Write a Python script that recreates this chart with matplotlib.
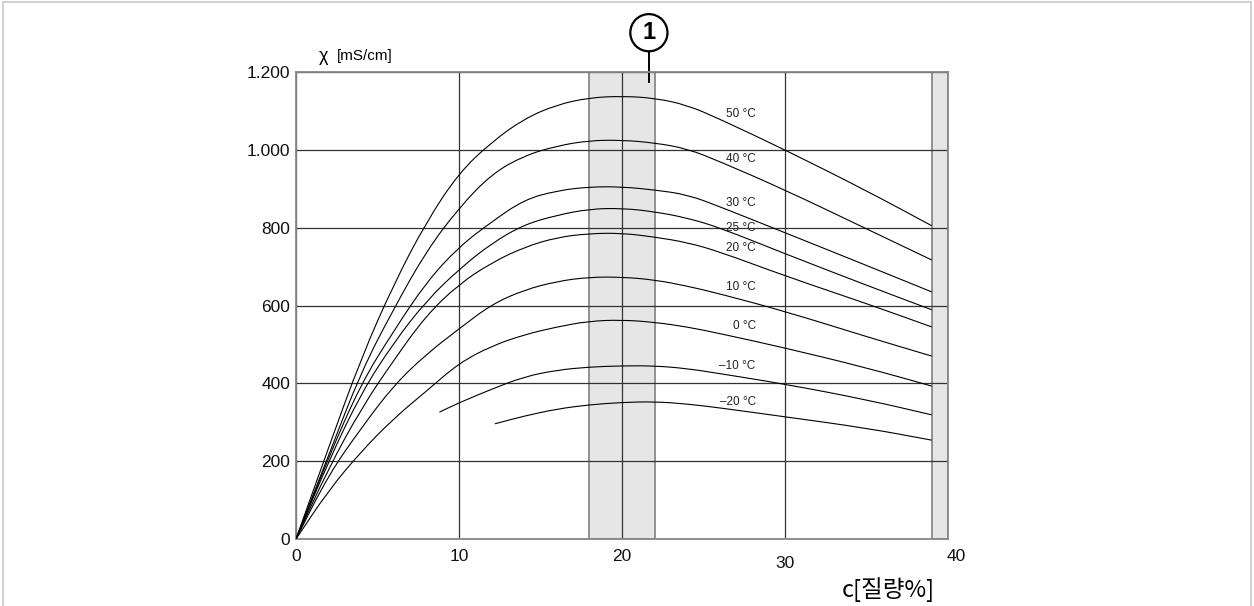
import matplotlib
matplotlib.use("Agg")
import matplotlib.pyplot as plt
import matplotlib.transforms as mtransforms
from matplotlib.patches import Rectangle, PathPatch
from matplotlib.path import Path

plt.rcParams['font.family'] = ['Liberation Sans', 'Noto Sans CJK KR', 'DejaVu Sans']

# conductivity curves, c [mass %] vs chi [mS/cm]
x_main = [0, 2, 4, 6, 8, 10, 12, 14, 16, 18, 20, 22, 24, 26, 30, 35, 39]
y_50 = [0, 235, 465, 655, 815, 941, 1020, 1080, 1116, 1134, 1138, 1133, 1115, 1079, 1000, 895, 805]
y_40 = [0, 215, 430, 592, 740, 851, 938, 985, 1010, 1024, 1025, 1018, 1003, 970, 897, 797, 717]
y_30 = [0, 210, 400, 535, 660, 751, 815, 872, 895, 905, 905, 897, 885, 854, 787, 703, 635]
y_25 = [0, 200, 375, 505, 612, 693, 760, 808, 832, 848, 850, 841, 825, 800, 733, 652, 589]
y_20 = [0, 182, 335, 460, 575, 655, 710, 750, 775, 785, 786, 776, 762, 738, 676, 605, 545]
y_10 = [0, 165, 285, 395, 475, 540, 603, 640, 662, 673, 673, 666, 650, 630, 585, 520, 470]
y_0 = [0, 125, 225, 310, 380, 452, 496, 525, 545, 560, 563, 557, 545, 528, 491, 440, 393]

x_m10 = [8.8, 10, 12, 14, 16, 18, 20, 22, 24, 26, 30, 35, 39]
y_m10 = [326, 350, 385, 417, 434, 442, 445, 445, 438, 425, 398, 358, 319]

x_m20 = [12.2, 14, 16, 18, 20, 22, 24, 26, 30, 35, 39]
y_m20 = [296, 316, 334, 345, 351, 353, 347, 337, 314, 285, 254]

labels = ['50 °C', '40 °C', '30 °C', '25 °C', '20 °C', '10 °C', '0 °C', '–10 °C', '–20 °C']
label_y = [1093, 977, 864, 800, 748, 648, 548, 445, 352]


def smooth_curve(xs, ys):
    # quadratic bezier through the midpoints, read points act as control points
    pts = list(zip(xs, ys))
    verts = [pts[0]]
    codes = [Path.MOVETO]
    mid = ((pts[0][0] + pts[1][0]) / 2, (pts[0][1] + pts[1][1]) / 2)
    verts.append(mid)
    codes.append(Path.LINETO)
    for i in range(1, len(pts) - 1):
        nxt = ((pts[i][0] + pts[i + 1][0]) / 2, (pts[i][1] + pts[i + 1][1]) / 2)
        verts += [pts[i], nxt]
        codes += [Path.CURVE3, Path.CURVE3]
    verts.append(pts[-1])
    codes.append(Path.LINETO)
    return Path(verts, codes)


fig = plt.figure(figsize=(12.54, 6.06), dpi=100)
ax = fig.add_axes([296 / 1254, 1 - 539 / 606, 652 / 1254, 467 / 606])

# outer frame of the figure
fig.patches.append(Rectangle((3 / 1254, -0.02), 1248 / 1254, 1.02 - 2 / 606,
                             transform=fig.transFigure, fill=False,
                             edgecolor='#c8c8c8', linewidth=1.2))

# shaded bands
for a, b in [(18, 22), (39, 40)]:
    ax.axvspan(a, b, facecolor='#e6e6e6', edgecolor='#808080', linewidth=1.2, zorder=0)

for xs, ys in [(x_main, y_50), (x_main, y_40), (x_main, y_30), (x_main, y_25),
               (x_main, y_20), (x_main, y_10), (x_main, y_0),
               (x_m10, y_m10), (x_m20, y_m20)]:
    ax.add_patch(PathPatch(smooth_curve(xs, ys), facecolor='none',
                           edgecolor='black', linewidth=0.8, zorder=3))

for lab, ly in zip(labels, label_y):
    ax.text(28.2, ly, lab, fontsize=8.5, ha='right', va='center', color='#222222', zorder=4)

ax.set_xlim(0, 40)
ax.set_ylim(0, 1200)
ax.set_xticks([0, 10, 20, 30, 40])
ax.set_yticks([0, 200, 400, 600, 800, 1000, 1200])
ax.set_yticklabels(['0', '200', '400', '600', '800', '1.000', '1.200'])
ax.grid(True, color='#333333', linewidth=0.9)
for g in ax.get_xgridlines() + ax.get_ygridlines():
    g.set_zorder(2)
ax.tick_params(length=0, labelsize=12.5, colors='#111111')
ax.tick_params(axis='y', pad=4)
ax.tick_params(axis='x', pad=7)
for s in ax.spines.values():
    s.set_color('#888888')
    s.set_linewidth(1.3)

# "30" sits a little lower in the original, "40" a little to the right
lbl30 = ax.get_xticklabels()[3]
lbl30.set_transform(lbl30.get_transform() + mtransforms.ScaledTranslation(0, -5 / 72, fig.dpi_scale_trans))
lbl40 = ax.get_xticklabels()[4]
lbl40.set_transform(lbl40.get_transform() + mtransforms.ScaledTranslation(6 / 72, 0, fig.dpi_scale_trans))

ax.text(1.4, 1218, 'χ', fontsize=13, ha='left', va='bottom')
ax.text(2.5, 1222, '[mS/cm]', fontsize=11, ha='left', va='bottom')
ax.text(39.2, -130, 'c[질량%]', fontsize=17, ha='right', va='center',
        family=['Noto Sans CJK KR', 'DejaVu Sans'])

# marker (1)
ax.plot([21.65, 21.65], [1174, 1260], color='black', linewidth=1.4, clip_on=False)
ax.text(21.65, 1301, '1', fontsize=17, fontweight='bold', ha='center', va='center',
        bbox=dict(boxstyle='circle,pad=0.3', facecolor='white', edgecolor='black', linewidth=1.6))

fig.savefig('out.png', dpi=100)
